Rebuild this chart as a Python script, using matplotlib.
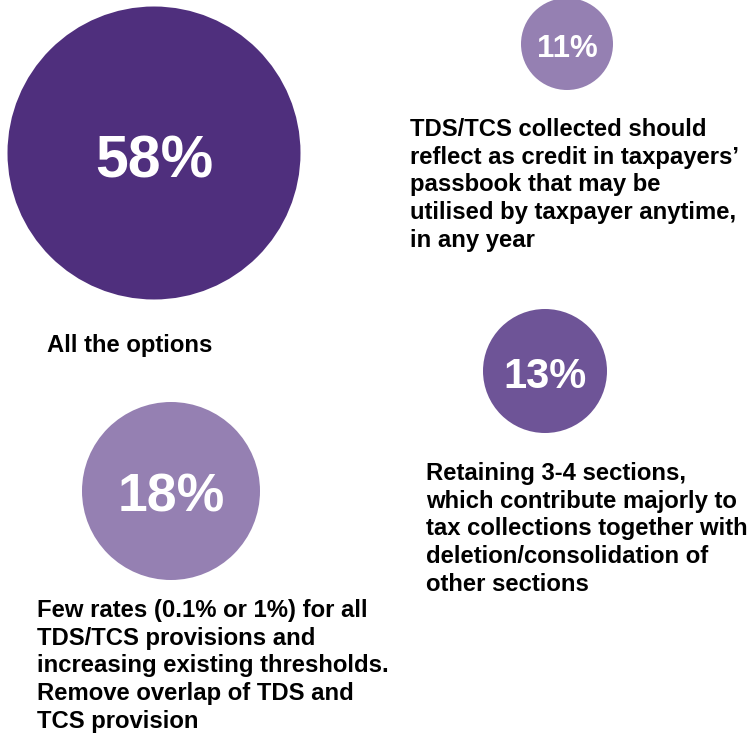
import matplotlib.pyplot as plt
from matplotlib.patches import Circle

# Survey results: share of respondents per option
shares = [58, 11, 13, 18]
options = [
    "All the options",
    "TDS/TCS collected should\nreflect as credit in taxpayers’\npassbook that may be\nutilised by taxpayer anytime,\nin any year",
    "Retaining 3-4 sections,\nwhich contribute majorly to\ntax collections together with\ndeletion/consolidation of\nother sections",
    "Few rates (0.1% or 1%) for all\nTDS/TCS provisions and\nincreasing existing thresholds.\nRemove overlap of TDS and\nTCS provision",
]

# layout in pixel coordinates: bubble centre, radius, percent baseline, label top
centers = [(154, 153), (567, 44), (545, 371), (171, 491)]
radii = [146.5, 46, 62, 89]
colors = ["#4f2f7d", "#9580b2", "#6e5497", "#9580b2"]
pct_sizes = [42.5, 22.5, 30, 38.5]
pct_base = [177, 57, 388, 512]
label_pos = [(47, 334), (410, 118), (426, 462), (37, 599)]

plt.rcParams['font.family'] = ['Liberation Sans', 'DejaVu Sans']

fig = plt.figure(figsize=(7.5, 7.38), dpi=100)
ax = fig.add_axes([0, 0, 1, 1])
ax.set_xlim(0, 750)
ax.set_ylim(738, 0)
ax.set_aspect('equal')
ax.axis('off')

for (cx, cy), r, c, val, fs, by in zip(centers, radii, colors, shares, pct_sizes, pct_base):
    ax.add_patch(Circle((cx, cy), r, color=c, lw=0))
    ax.text(cx, by, f"{val}%", color='white', fontsize=fs, fontweight='bold',
            ha='center', va='baseline')

for (lx, ly), txt in zip(label_pos, options):
    ax.text(lx, ly, txt, fontsize=17.2, fontweight='bold', color='black',
            ha='left', va='top', linespacing=1.26)

fig.savefig("out.png", dpi=100)
